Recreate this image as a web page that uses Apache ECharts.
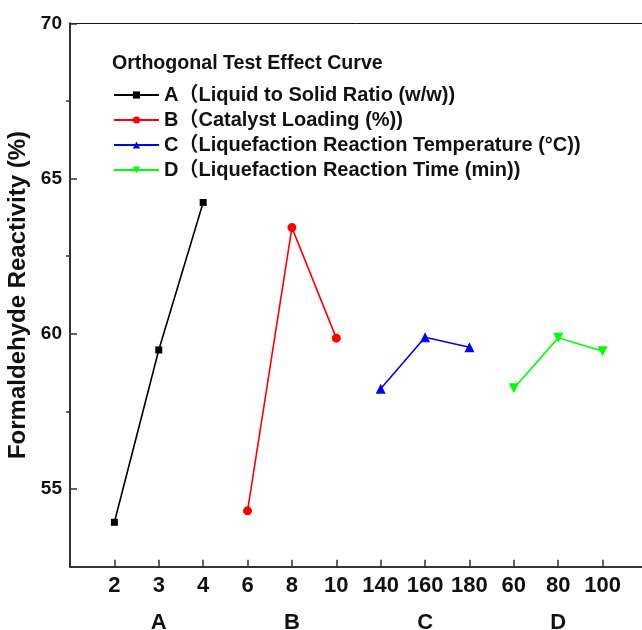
<!DOCTYPE html>
<html>
<head>
<meta charset="utf-8">
<script src="https://cdn.jsdelivr.net/npm/echarts@6/dist/echarts.min.js"></script>
<style>
  html, body { margin: 0; padding: 0; background: #fff; }
  #chart { width: 642px; height: 630px; }
</style>
</head>
<body>
<div id="chart"></div>
<script>
// Orthogonal test effect curve: four factors, three levels each.
const tickLabels = ['2', '3', '4', '6', '8', '10', '140', '160', '180', '60', '80', '100'];
const groupLabels = ['A', 'B', 'C', 'D'];
const seriesNames = [
  'A（Liquid to Solid Ratio (w/w))',
  'B（Catalyst Loading (%))',
  'C（Liquefaction Reaction Temperature (°C))',
  'D（Liquefaction Reaction Time (min))',
];
const valuesA = [53.93, 59.48, 64.23];
const valuesB = [54.30, 63.42, 59.86];
const valuesC = [58.23, 59.89, 59.57];
const valuesD = [58.25, 59.87, 59.44];

const FONT = '"Liberation Sans", Arial, "Noto Sans CJK SC", sans-serif';
const AXIS = '#333';

// style per factor: colour, symbol, size, rotation
const styles = [
  { color: '#000000', symbol: 'rect', size: 7, rotate: 0 },
  { color: '#ff0000', symbol: 'circle', size: 9, rotate: 0 },
  { color: '#0000ff', symbol: 'triangle', size: 10, rotate: 0 },
  { color: '#00ff00', symbol: 'triangle', size: 10, rotate: 180 },
];

// each factor takes 3 consecutive slots on the x scale (1..12)
const toPoints = (vals, g) => vals.map((v, i) => [g * 3 + i + 1, v]);

const series = [valuesA, valuesB, valuesC, valuesD].map((vals, g) => ({
  name: seriesNames[g],
  type: 'line',
  data: toPoints(vals, g),
  symbol: styles[g].symbol,
  symbolSize: styles[g].size,
  symbolRotate: styles[g].rotate,
  lineStyle: { color: styles[g].color, width: 1.6 },
  itemStyle: { color: styles[g].color },
  z: 3,
}));

const chart = echarts.init(document.getElementById('chart'), null, { renderer: 'canvas' });

chart.setOption({
  animation: false,
  backgroundColor: '#fff',
  textStyle: { fontFamily: FONT },
  title: {
    text: 'Orthogonal Test Effect Curve',
    left: 112,
    top: 54,
    padding: 0,
    textStyle: { fontFamily: FONT, fontSize: 19.6, fontWeight: 'bold', color: '#111' },
  },
  legend: {
    orient: 'vertical',
    left: 113,
    top: 85,
    padding: 0,
    itemWidth: 45,
    itemHeight: 9,
    itemGap: 5,
    textStyle: { fontFamily: FONT, fontSize: 20, fontWeight: 'bold', color: '#111', lineHeight: 20 },
    data: seriesNames,
  },
  grid: { left: 70, top: 23.3, right: -5, bottom: 63.3, containLabel: false, outerBoundsMode: 'none' },
  xAxis: [
    {
      type: 'value',
      min: 0, max: 13, interval: 1,
      axisLine: { show: true, lineStyle: { color: AXIS, width: 2 } },
      axisTick: { show: true, inside: true, length: 7, lineStyle: { color: AXIS, width: 1.5 },
        customValues: tickLabels.map((_, i) => i + 1) },
      axisLabel: {
        customValues: tickLabels.map((_, i) => i + 1),
        formatter: (v) => tickLabels[v - 1] || '',
        margin: 8, fontSize: 22, fontWeight: 'bold', color: '#111', fontFamily: FONT,
      },
      splitLine: { show: false },
    },
    {
      // factor group names under the tick labels
      type: 'value', position: 'bottom', offset: 37,
      min: 0, max: 13, interval: 1,
      axisLine: { show: false }, axisTick: { show: false }, splitLine: { show: false },
      axisLabel: {
        customValues: groupLabels.map((_, g) => g * 3 + 2),
        formatter: (v) => groupLabels[(v - 2) / 3] || '',
        margin: 8, fontSize: 22, fontWeight: 'bold', color: '#111', fontFamily: FONT,
      },
    },
    {
      // top frame line
      type: 'value', position: 'top',
      min: 0, max: 13,
      axisLine: { show: true, lineStyle: { color: '#111', width: 1 } },
      axisTick: { show: false }, axisLabel: { show: false }, splitLine: { show: false },
    },
  ],
  yAxis: [
    {
      type: 'value',
      min: 52.5, max: 70, interval: 2.5,
      name: 'Formaldehyde Reactivity (%)',
      nameLocation: 'middle',
      nameGap: 38,
      nameTextStyle: { fontFamily: FONT, fontSize: 24, fontWeight: 'bold', color: '#111' },
      axisLine: { show: true, lineStyle: { color: AXIS, width: 2 } },
      axisTick: { show: true, inside: true, length: 7, lineStyle: { color: AXIS, width: 1.5 },
        customValues: [55, 60, 65, 70] },
      axisLabel: {
        customValues: [55, 60, 65, 70],
        margin: 8, fontSize: 19, fontWeight: 'bold', color: '#111', fontFamily: FONT,
      },
      splitLine: { show: false },
    },
    {
      // short outward minor ticks between labelled values
      type: 'value', position: 'left',
      min: 52.5, max: 70, interval: 2.5,
      axisLine: { show: false },
      axisTick: { show: true, inside: false, length: 4, lineStyle: { color: AXIS, width: 1.5 },
        customValues: [57.5, 62.5, 67.5] },
      axisLabel: { show: false },
      splitLine: { show: false },
    },
  ],
  series: series,
});
</script>
</body>
</html>
